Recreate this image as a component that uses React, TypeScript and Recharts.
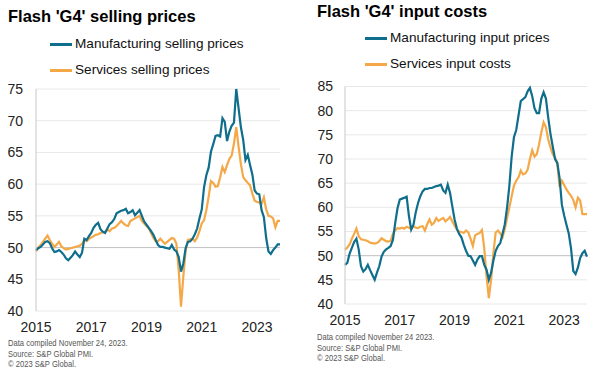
import { LineChart, Line, XAxis, YAxis, CartesianGrid, ReferenceLine } from "recharts";

// monthly, Jan 2015 .. Nov 2023
const mfgSelling = [
  49.6, 49.9, 50.1, 50.5, 50.9, 51.0, 50.7, 49.9, 49.3, 49.4, 49.6, 49.3,
  48.9, 48.3, 48.0, 48.4, 48.8, 49.4, 48.9, 48.5, 49.2, 51.4, 51.2, 51.8,
  52.3, 53.1, 53.6, 53.9, 52.9, 52.5, 52.3, 53.0, 53.7, 54.0, 54.5, 55.4,
  55.6, 55.8, 55.9, 56.1, 55.4, 55.6, 55.9, 55.1, 55.5, 55.9, 55.0, 54.1,
  53.6, 53.1, 52.6, 52.0, 51.2, 50.4, 50.1, 50.1, 50.0, 49.9, 49.8, 50.4,
  49.7, 49.4, 48.5, 46.2, 47.5, 49.9, 50.9, 51.0, 51.4, 52.1, 53.0, 54.6,
  56.0, 59.5, 61.4, 62.6, 65.1, 66.3, 67.6, 67.7, 67.5, 70.4, 69.8, 66.8,
  68.3, 69.2, 69.7, 75.0, 72.0, 69.0, 67.0, 63.8, 64.6, 63.0, 61.5, 59.0,
  58.5, 58.4, 55.9, 54.8, 51.5, 49.4, 49.0, 49.6, 50.0, 50.5, 50.5,
];

const svcSelling = [
  49.4, 50.0, 50.4, 50.9, 51.4, 51.9, 51.2, 50.6, 50.1, 50.5, 50.9, 50.2,
  49.9, 49.7, 49.8, 49.9, 50.0, 50.1, 50.2, 50.3, 50.6, 51.2, 51.0, 51.4,
  51.6, 51.8, 52.0, 52.1, 52.3, 52.4, 52.5, 52.8, 52.6, 53.0, 53.1, 53.4,
  53.8, 54.2, 53.8, 53.5, 53.4, 54.2, 54.4, 54.6, 54.8, 55.0, 54.2, 53.8,
  53.4, 53.0, 52.3, 51.5, 51.0, 51.0, 51.4, 51.0, 50.6, 50.9, 51.2, 51.5,
  51.4, 50.6, 46.4, 40.7, 45.4, 49.5, 51.2, 51.3, 51.4, 51.0, 51.6, 52.6,
  53.8, 54.3, 55.9, 58.0, 60.5, 60.2, 59.6, 59.7, 61.1, 62.7, 61.9, 63.0,
  64.0, 64.5, 66.4, 69.0, 65.9, 63.2, 61.1, 60.6, 60.2, 59.8, 58.5, 57.4,
  57.2, 57.1, 56.9, 57.9, 56.0, 55.0, 54.9, 54.6, 53.2, 54.2, 54.2,
];

const mfgInput = [
  48.1, 48.5, 50.4, 51.6, 52.8, 53.5, 51.3, 47.8, 46.7, 47.2, 48.1, 47.0,
  46.0, 45.0, 46.5, 47.8, 49.8, 50.8, 51.3, 51.6, 52.0, 53.3, 56.8, 59.8,
  61.6, 61.8, 62.0, 62.2, 58.2, 55.4, 56.4, 59.0, 60.9, 62.3, 63.3, 63.8,
  63.8, 64.0, 64.0, 64.2, 64.4, 64.5, 64.7, 63.5, 63.0, 64.7, 63.0, 60.2,
  57.5, 55.6, 54.5, 53.8, 52.3, 51.0, 50.0, 49.9, 49.0, 48.1, 49.2, 49.9,
  49.9, 48.1, 47.1, 45.0, 46.5, 49.0, 51.0, 52.0, 52.6, 54.5, 56.5, 60.0,
  64.5, 70.5, 74.5, 76.0, 79.0, 82.0, 82.4, 82.8, 84.0, 84.7, 83.0, 80.5,
  79.5, 79.5, 82.5, 83.8, 82.5, 78.6, 75.2, 72.6, 70.0, 69.2, 66.0, 60.5,
  58.3, 56.4, 54.6, 51.5, 46.8, 46.2, 47.5, 49.5, 50.5, 51.0, 49.8,
];

const svcInput = [
  51.2, 51.7, 52.3, 53.5, 54.5, 55.6, 54.0, 53.4, 53.3, 53.2, 53.0, 52.7,
  52.6, 52.5, 52.6, 53.0, 53.6, 53.3, 53.0, 52.9, 53.1, 54.5, 55.3, 55.7,
  55.6, 55.8, 55.6, 56.0, 55.8, 55.5, 56.1, 55.8, 55.7, 56.0, 56.1, 55.2,
  56.5, 57.5, 56.4, 56.8, 57.8, 57.2, 57.5, 57.8, 57.1, 57.5, 58.0, 57.1,
  56.2, 55.4, 55.0, 54.9, 54.7, 55.2, 54.8, 53.5, 52.0, 54.2, 54.5, 54.7,
  55.3, 51.5, 45.7, 41.2, 45.0, 50.5, 54.8, 55.2, 54.6, 53.8, 55.5, 57.8,
  60.0, 62.3, 64.5, 65.5, 66.2, 67.6, 66.8, 67.0, 67.8, 70.0, 71.8, 70.5,
  71.0, 73.0, 75.5, 77.6, 76.6, 74.1, 72.4, 71.0, 70.3, 69.0, 64.2, 65.5,
  64.6, 63.7, 63.0, 62.4, 61.5, 60.0, 62.0, 61.4, 58.6, 58.6, 58.6,
];

const yearLabels = ["2015", "2017", "2019", "2021", "2023"];
const yearTicks = [0, 24, 48, 72, 96];
const sellingTicks = [40, 45, 50, 55, 60, 65, 70, 75];
const inputTicks = [40, 45, 50, 55, 60, 65, 70, 75, 80, 85];

const TEAL = "#0f6e8c";
const ORANGE = "#f5a847";
const FONT = "Arial, 'Liberation Sans', sans-serif";

const sellingData = mfgSelling.map((v, i) => ({ i, mfg: v, svc: svcSelling[i] }));
const inputData = mfgInput.map((v, i) => ({ i, mfg: v, svc: svcInput[i] }));

const tick = { fill: "#222", fontSize: 14, fontFamily: FONT };
const yearFmt = (v: number) => yearLabels[yearTicks.indexOf(v)] ?? "";

function LegendRow({ x, y, color, label }: { x: number; y: number; color: string; label: string }) {
  return (
    <div style={{ position: "absolute", left: x, top: y, height: 16 }}>
      <div style={{ position: "absolute", left: 0, top: 5, width: 22, height: 3, background: color }} />
      <div
        style={{
          position: "absolute",
          left: 25,
          top: -1,
          whiteSpace: "nowrap",
          fontFamily: FONT,
          fontSize: 13.6,
          lineHeight: 1,
          color: "#111",
        }}
      >
        {label}
      </div>
    </div>
  );
}

function Title({ x, y, text }: { x: number; y: number; text: string }) {
  return (
    <div
      style={{
        position: "absolute",
        left: x,
        top: y,
        whiteSpace: "nowrap",
        fontFamily: FONT,
        fontWeight: "bold",
        fontSize: 16.5,
        lineHeight: 1,
        color: "#000",
      }}
    >
      {text}
    </div>
  );
}

// source notes are set in a condensed face in the original
function Footer({ x, y, lines }: { x: number; y: number; lines: string[] }) {
  return (
    <div
      style={{
        position: "absolute",
        left: x,
        top: y,
        fontFamily: FONT,
        fontSize: 9.5,
        lineHeight: "10.5px",
        color: "#555",
        whiteSpace: "nowrap",
        transform: "scaleX(0.8)",
        transformOrigin: "left top",
      }}
    >
      {lines.map((l) => (
        <div key={l}>{l}</div>
      ))}
    </div>
  );
}

export default function App() {
  return (
    <div style={{ position: "absolute", left: 0, top: 0, width: 598, height: 375, background: "#fff" }}>
      <div style={{ position: "absolute", left: 0, top: 0 }}>
        <LineChart width={300} height={375} data={sellingData} margin={{ top: 89, right: 20, bottom: 34, left: 0 }}>
          <CartesianGrid vertical={false} stroke="#e8e8e8" />
          <XAxis
            dataKey="i"
            type="number"
            domain={[0, 106]}
            ticks={yearTicks}
            tickFormatter={yearFmt}
            axisLine={false}
            tickLine={false}
            tick={tick}
            tickMargin={5}
            height={30}
          />
          <YAxis
            domain={[40, 75]}
            ticks={sellingTicks}
            width={36}
            axisLine={{ stroke: "#c8c8c8" }}
            tickLine={false}
            tick={tick}
            tickMargin={7}
          />
          <ReferenceLine y={50} stroke="#c4c4c4" />
          <Line dataKey="svc" stroke={ORANGE} strokeWidth={2.2} dot={false} isAnimationActive={false} />
          <Line dataKey="mfg" stroke={TEAL} strokeWidth={2.2} dot={false} isAnimationActive={false} />
        </LineChart>
      </div>
      <div style={{ position: "absolute", left: 300, top: 0 }}>
        <LineChart width={298} height={375} data={inputData} margin={{ top: 86.5, right: 11, bottom: 41, left: 0 }}>
          <CartesianGrid vertical={false} stroke="#e8e8e8" />
          <XAxis
            dataKey="i"
            type="number"
            domain={[0, 106]}
            ticks={yearTicks}
            tickFormatter={yearFmt}
            axisLine={false}
            tickLine={false}
            tick={tick}
            tickMargin={5}
            height={30}
          />
          <YAxis
            domain={[40, 85]}
            ticks={inputTicks}
            width={45}
            axisLine={{ stroke: "#c8c8c8" }}
            tickLine={false}
            tick={tick}
            tickMargin={6}
          />
          <ReferenceLine y={50} stroke="#c4c4c4" />
          <Line dataKey="svc" stroke={ORANGE} strokeWidth={2.2} dot={false} isAnimationActive={false} />
          <Line dataKey="mfg" stroke={TEAL} strokeWidth={2.2} dot={false} isAnimationActive={false} />
        </LineChart>
      </div>

      <Title x={8} y={7.8} text="Flash 'G4' selling prices" />
      <Title x={317} y={2.8} text="Flash 'G4' input costs" />

      <LegendRow x={50} y={38} color={TEAL} label="Manufacturing selling prices" />
      <LegendRow x={50} y={64} color={ORANGE} label="Services selling prices" />
      <LegendRow x={365} y={32} color={TEAL} label="Manufacturing input prices" />
      <LegendRow x={365} y={57.5} color={ORANGE} label="Services input costs" />

      <Footer
        x={8}
        y={338}
        lines={["Data compiled November 24, 2023.", "Source: S&P Global PMI.", "\u00a9 2023 S&P Global."]}
      />
      <Footer
        x={317}
        y={332}
        lines={["Data compiled November 24 2023.", "Source: S&P Global PMI.", "\u00a9 2023 S&P Global."]}
      />
    </div>
  );
}
